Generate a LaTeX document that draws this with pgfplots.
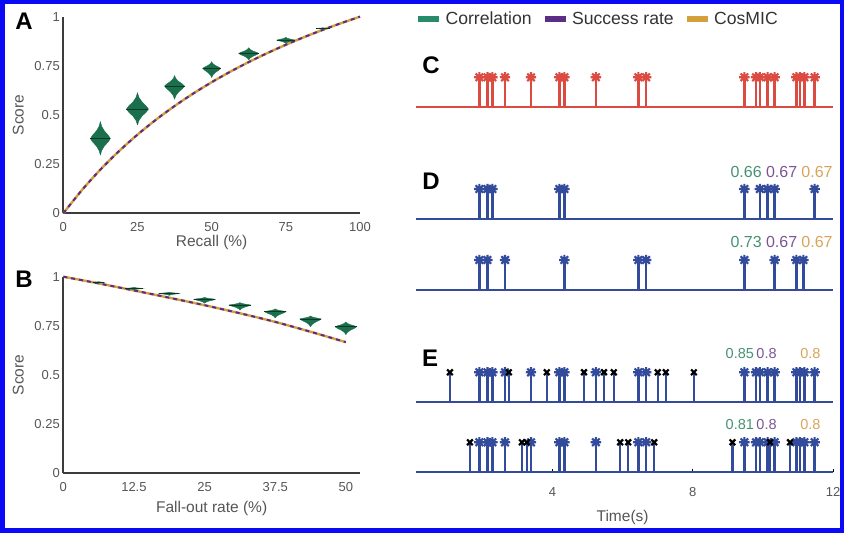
\documentclass[border=0pt]{standalone}
\usepackage{fontspec}
\setmainfont{Liberation Sans}
\usepackage{pgfplots}
\pgfplotsset{compat=1.18}

\definecolor{frameblue}{RGB}{10,10,245}
\definecolor{violin}{RGB}{26,112,76}
\definecolor{violindark}{RGB}{12,55,36}
\definecolor{corr}{RGB}{40,140,105}
\definecolor{succ}{RGB}{92,45,135}
\definecolor{cosm}{RGB}{212,160,60}
\definecolor{spikered}{RGB}{220,75,65}
\definecolor{spikeblue}{RGB}{50,75,155}
\definecolor{axgray}{RGB}{60,60,60}
\definecolor{txtgray}{RGB}{85,85,85}
\definecolor{corrT}{RGB}{70,145,115}
\definecolor{succT}{RGB}{125,85,150}
\definecolor{cosT}{RGB}{215,165,90}

\pgfdeclareplotmark{spk}{%
  \pgfpathmoveto{\pgfqpoint{-\pgfplotmarksize}{0pt}}\pgfpathlineto{\pgfqpoint{\pgfplotmarksize}{0pt}}%
  \pgfpathmoveto{\pgfqpoint{0pt}{-\pgfplotmarksize}}\pgfpathlineto{\pgfqpoint{0pt}{\pgfplotmarksize}}%
  \pgfpathmoveto{\pgfqpoint{-0.72\pgfplotmarksize}{-0.72\pgfplotmarksize}}\pgfpathlineto{\pgfqpoint{0.72\pgfplotmarksize}{0.72\pgfplotmarksize}}%
  \pgfpathmoveto{\pgfqpoint{-0.72\pgfplotmarksize}{0.72\pgfplotmarksize}}\pgfpathlineto{\pgfqpoint{0.72\pgfplotmarksize}{-0.72\pgfplotmarksize}}%
  \pgfusepathqstroke}

\tikzset{
  annD/.style={font=\fontsize{16bp}{18bp}\selectfont},
  annE/.style={font=\fontsize{14.5bp}{16bp}\selectfont},
}

\pgfplotsset{
  leftax/.style={scale only axis, width=296.7bp, height=196.6bp,
    axis x line=bottom, axis y line=left,
    axis line style={axgray, line width=2bp, -},
    major tick length=0pt,
    tick label style={font=\fontsize{13bp}{15bp}\selectfont, text=txtgray},
    xticklabel style={yshift=-6bp},
    label style={font=\fontsize{15.5bp}{17bp}\selectfont, text=txtgray},
    /pgf/number format/assume math mode=true,
    ymin=0, ymax=1, ytick={0,0.25,0.5,0.75,1}, clip=false},
  violinfill/.style={fill=violin, draw=violin, line width=0.4bp},
  medianline/.style={violindark, line width=0.9bp},
  curvegold/.style={cosm, line width=2.4bp},
  curvepurple/.style={succ, line width=2bp, dash pattern=on 4bp off 4bp},
  rowax/.style={scale only axis, width=421.2bp, height=30bp,
    xmin=0, xmax=12, ymin=0, ymax=1, axis lines=none, clip=false},
  redspk/.style={ycomb, spikered, line width=2.4bp, mark=spk, mark size=5.2bp, mark options={line width=2.1bp}, forget plot},
  bluespk/.style={ycomb, spikeblue, line width=2.4bp, mark=spk, mark size=5.2bp, mark options={line width=2.1bp}, forget plot},
  falsespk/.style={ycomb, spikeblue, line width=2.4bp, mark=x, mark size=4bp, mark options={black, line width=2.2bp}, forget plot},
  redbase/.style={spikered, line width=2.2bp, forget plot},
  bluebase/.style={spikeblue, line width=2.2bp, forget plot},
}

% violin: x0, median, half width, bottom, top
\newcommand{\violin}[5]{%
  \pgfmathsetmacro{\vA}{#1-#3}\pgfmathsetmacro{\vB}{#1+#3}%
  \pgfmathsetmacro{\vC}{#1-0.78*#3}\pgfmathsetmacro{\vD}{#1+0.78*#3}%
  \pgfmathsetmacro{\vE}{#1-0.4*#3}\pgfmathsetmacro{\vF}{#1+0.4*#3}%
  \pgfmathsetmacro{\vG}{#1-0.13*#3}\pgfmathsetmacro{\vH}{#1+0.13*#3}%
  \pgfmathsetmacro{\yLa}{#2-0.2*(#2-#4)}\pgfmathsetmacro{\yLb}{#2-0.45*(#2-#4)}\pgfmathsetmacro{\yLc}{#2-0.72*(#2-#4)}%
  \pgfmathsetmacro{\yUa}{#2+0.2*(#5-#2)}\pgfmathsetmacro{\yUb}{#2+0.45*(#5-#2)}\pgfmathsetmacro{\yUc}{#2+0.72*(#5-#2)}%
  \edef\vtmp{\noexpand\addplot[violinfill] coordinates {(#1,#4) (\vG,\yLc) (\vE,\yLb) (\vC,\yLa) (\vA,#2) (\vC,\yUa) (\vE,\yUb) (\vG,\yUc) (#1,#5) (\vH,\yUc) (\vF,\yUb) (\vD,\yUa) (\vB,#2) (\vD,\yLa) (\vF,\yLb) (\vH,\yLc) (#1,#4)};}\vtmp
  \edef\vtmp{\noexpand\addplot[medianline] coordinates {(\vA,#2) (\vB,#2)};}\vtmp
}

\newcommand{\Ctimes}{(1.92,1) (2.15,1) (2.29,1) (2.65,1) (3.39,1) (4.20,1) (4.34,1) (5.24,1) (6.45,1) (6.67,1) (9.47,1) (9.80,1) (9.91,1) (10.13,1) (10.33,1) (10.95,1) (11.05,1) (11.18,1) (11.47,1)}

\begin{document}
\begin{tikzpicture}
\path[use as bounding box] (0,0) rectangle (844bp,533bp);

% ---------- Panel A ----------
\begin{axis}[leftax, at={(63.3bp,319.7bp)}, anchor=south west,
  xmin=0, xmax=100, xtick={0,25,50,75,100},
  xlabel={Recall (\%)}, ylabel={Score},
  xlabel style={at={(axis description cs:0.5,-0.148)}, anchor=center},
  ylabel style={at={(axis description cs:-0.152,0.5)}, anchor=center}]
\addplot[curvegold, smooth] coordinates {(0,0) (6.25,0.1176) (12.5,0.2222) (18.75,0.3158) (25,0.4) (31.25,0.4762) (37.5,0.5455) (43.75,0.6087) (50,0.6667) (56.25,0.72) (62.5,0.7692) (68.75,0.8148) (75,0.8571) (81.25,0.8966) (87.5,0.9333) (93.75,0.9677) (100,1)};
\addplot[curvepurple, smooth] coordinates {(0,0) (6.25,0.1176) (12.5,0.2222) (18.75,0.3158) (25,0.4) (31.25,0.4762) (37.5,0.5455) (43.75,0.6087) (50,0.6667) (56.25,0.72) (62.5,0.7692) (68.75,0.8148) (75,0.8571) (81.25,0.8966) (87.5,0.9333) (93.75,0.9677) (100,1)};
\violin{12.5}{0.38}{3.37}{0.296}{0.466}
\violin{25}{0.53}{3.7}{0.449}{0.613}
\violin{37.5}{0.647}{3.37}{0.58}{0.70}
\violin{50}{0.737}{3.03}{0.69}{0.771}
\violin{62.5}{0.813}{3.37}{0.78}{0.842}
\violin{75}{0.881}{3.03}{0.864}{0.895}
\violin{87.5}{0.94}{2.4}{0.936}{0.944}
\end{axis}

% ---------- Panel B ----------
\begin{axis}[leftax, at={(63.3bp,59.7bp)}, anchor=south west,
  xmin=0, xmax=52.5, xtick={0,12.5,25,37.5,50},
  xlabel={Fall-out rate (\%)}, ylabel={Score},
  xlabel style={at={(axis description cs:0.5,-0.178)}, anchor=center},
  ylabel style={at={(axis description cs:-0.152,0.5)}, anchor=center}]
\addplot[curvegold, smooth] coordinates {(0,1) (6.25,0.966) (12.5,0.93) (18.75,0.893) (25,0.855) (31.25,0.814) (37.5,0.77) (43.75,0.72) (50,0.667)};
\addplot[curvepurple, smooth] coordinates {(0,1) (6.25,0.966) (12.5,0.93) (18.75,0.893) (25,0.855) (31.25,0.814) (37.5,0.77) (43.75,0.72) (50,0.667)};
\violin{6.25}{0.971}{1.0}{0.966}{0.975}
\violin{12.5}{0.94}{1.6}{0.933}{0.946}
\violin{18.75}{0.915}{1.8}{0.905}{0.921}
\violin{25}{0.885}{1.9}{0.865}{0.895}
\violin{31.25}{0.856}{1.9}{0.83}{0.868}
\violin{37.5}{0.822}{1.9}{0.79}{0.836}
\violin{43.75}{0.785}{1.9}{0.745}{0.80}
\violin{50}{0.745}{1.9}{0.705}{0.77}
\end{axis}

% ---------- Panel C ----------
\begin{axis}[rowax, at={(412bp,425.7bp)}, anchor=south west,
  legend columns=3,
  legend image code/.code={\fill[#1] (0bp,-2.5bp) rectangle (20bp,2.5bp);},
  legend style={at={(0.0142,2.95)}, anchor=west, draw=none, fill=none,
    font=\fontsize{17.6bp}{19bp}\selectfont, text=black!80, inner sep=0pt,
    nodes={inner xsep=5bp},
    /tikz/every odd column/.append style={column sep=2bp},
    /tikz/every even column/.append style={column sep=8bp}},
  legend cell align=left]
\addlegendimage{corr}\addlegendentry{Correlation}
\addlegendimage{succ}\addlegendentry{Success rate}
\addlegendimage{cosm}\addlegendentry{CosMIC}
\addplot[redbase] coordinates {(0.1,0) (12,0)};
\addplot[redspk] coordinates {\Ctimes};
\end{axis}

% ---------- Panel D ----------
\begin{axis}[rowax, at={(412bp,314bp)}, anchor=south west]
\addplot[bluebase] coordinates {(0.1,0) (12,0)};
\addplot[bluespk] coordinates {(1.92,1) (2.15,1) (2.29,1) (4.20,1) (4.34,1) (9.47,1) (9.91,1) (10.13,1) (10.33,1) (11.47,1)};
\node[annD, text=corrT] at (axis cs:9.52,1.58) {0.66};
\node[annD, text=succT] at (axis cs:10.53,1.58) {0.67};
\node[annD, text=cosT] at (axis cs:11.54,1.58) {0.67};
\end{axis}
\begin{axis}[rowax, at={(412bp,243bp)}, anchor=south west]
\addplot[bluebase] coordinates {(0.1,0) (12,0)};
\addplot[bluespk] coordinates {(1.92,1) (2.15,1) (2.65,1) (4.34,1) (6.45,1) (6.67,1) (9.47,1) (10.33,1) (10.95,1) (11.15,1)};
\node[annD, text=corrT] at (axis cs:9.52,1.61) {0.73};
\node[annD, text=succT] at (axis cs:10.53,1.61) {0.67};
\node[annD, text=cosT] at (axis cs:11.54,1.61) {0.67};
\end{axis}

% ---------- Panel E ----------
\begin{axis}[rowax, at={(412bp,130.7bp)}, anchor=south west]
\addplot[bluebase] coordinates {(0.1,0) (12,0)};
\addplot[bluespk] coordinates {\Ctimes};
\addplot[falsespk] coordinates {(1.08,1) (2.76,1) (3.84,1) (4.90,1) (5.47,1) (5.75,1) (7.00,1) (7.23,1) (8.03,1)};
\node[annE, text=corrT] at (axis cs:9.34,1.63) {0.85};
\node[annE, text=succT] at (axis cs:10.1,1.63) {0.8};
\node[annE, text=cosT] at (axis cs:11.35,1.63) {0.8};
\end{axis}
\begin{axis}[scale only axis, width=421.2bp, height=30bp,
  xmin=0, xmax=12, ymin=0, ymax=1, clip=false,
  at={(412bp,60.7bp)}, anchor=south west,
  hide y axis, axis x line*=bottom, x axis line style={draw=none},
  xtick={4,8,12}, tick align=inside, major tick length=3bp,
  xtick style={black, line width=1bp},
  tick label style={font=\fontsize{13bp}{15bp}\selectfont, text=txtgray},
  xticklabel style={yshift=-12bp},
  /pgf/number format/assume math mode=true,
  xlabel={Time(s)},
  xlabel style={font=\fontsize{15.5bp}{17bp}\selectfont, text=txtgray, at={(axis description cs:0.5,-1.52)}, anchor=center}]
\addplot[bluebase] coordinates {(0.1,0) (12,0)};
\addplot[bluespk] coordinates {\Ctimes};
\addplot[falsespk] coordinates {(1.65,1) (3.13,1) (3.27,1) (5.93,1) (6.16,1) (6.90,1) (9.13,1) (10.20,1) (10.77,1)};
\node[annE, text=corrT] at (axis cs:9.34,1.58) {0.81};
\node[annE, text=succT] at (axis cs:10.1,1.58) {0.8};
\node[annE, text=cosT] at (axis cs:11.35,1.58) {0.8};
\end{axis}

% ---------- panel letters ----------
\node[font=\bfseries\fontsize{24bp}{26bp}\selectfont] at (24bp,512bp) {A};
\node[font=\bfseries\fontsize{24bp}{26bp}\selectfont] at (24bp,254bp) {B};
\node[font=\bfseries\fontsize{24bp}{26bp}\selectfont] at (431bp,468bp) {C};
\node[font=\bfseries\fontsize{24bp}{26bp}\selectfont] at (431bp,352bp) {D};
\node[font=\bfseries\fontsize{24bp}{26bp}\selectfont] at (430bp,175bp) {E};

\draw[frameblue, line width=4.5bp] (2.25bp,2.25bp) rectangle (841.75bp,530.75bp);
\end{tikzpicture}
\end{document}
